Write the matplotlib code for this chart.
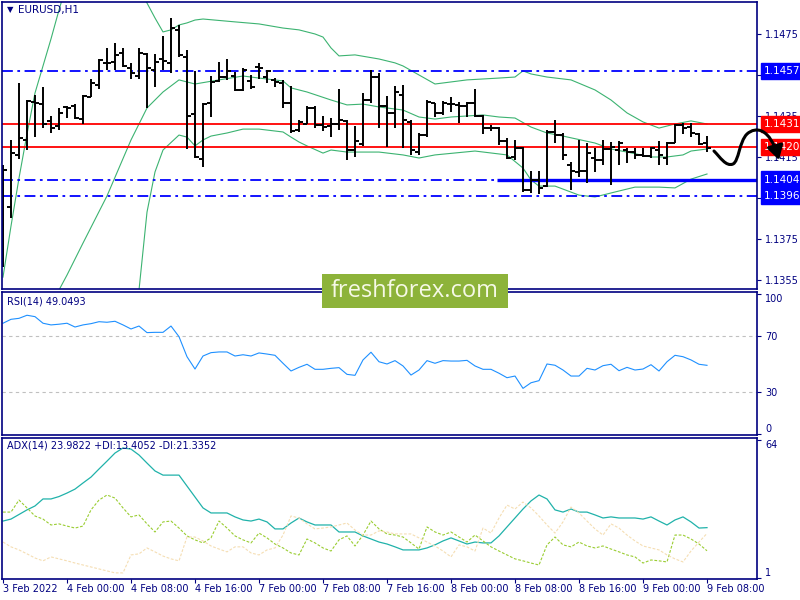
import numpy as np
import matplotlib.pyplot as plt
from matplotlib.patches import Rectangle, FancyArrowPatch, ArrowStyle
from matplotlib.path import Path
from matplotlib.transforms import blended_transform_factory

# EURUSD H1 bars, 3 Feb 16:00 .. 9 Feb 08:00 (89 bars)
opens = [1.13696, 1.13906, 1.14160, 1.14233, 1.14418, 1.14408, 1.14326, 1.14301, 1.14394, 1.14399,
         1.14335, 1.14443, 1.14501, 1.14609, 1.14613, 1.14657, 1.14584, 1.14545, 1.14652, 1.14574,
         1.14628, 1.14609, 1.14770, 1.14638, 1.14360, 1.14140, 1.14413, 1.14521, 1.14540, 1.14545,
         1.14477, 1.14521, 1.14589, 1.14540, 1.14526, 1.14511, 1.14413, 1.14282, 1.14311, 1.14389,
         1.14306, 1.14301, 1.14311, 1.14326, 1.14184, 1.14213, 1.14428, 1.14540, 1.14399, 1.14365,
         1.14452, 1.14321, 1.14174, 1.14257, 1.14413, 1.14365, 1.14408, 1.14404, 1.14399, 1.14413,
         1.14350, 1.14291, 1.14291, 1.14228, 1.14150, 1.14194, 1.13989, 1.14038, 1.14008, 1.14272,
         1.14257, 1.14111, 1.14077, 1.14082, 1.14145, 1.14135, 1.14189, 1.14184, 1.14184, 1.14174,
         1.14160, 1.14155, 1.14184, 1.14145, 1.14218, 1.14306, 1.14296, 1.14262, 1.14218]
highs = [1.14111, 1.14233, 1.14511, 1.14428, 1.14452, 1.14491, 1.14350, 1.14389, 1.14399, 1.14408,
         1.14452, 1.14530, 1.14628, 1.14682, 1.14706, 1.14682, 1.14609, 1.14682, 1.14657, 1.14652,
         1.14740, 1.14828, 1.14794, 1.14672, 1.14570, 1.14413, 1.14545, 1.14613, 1.14628, 1.14565,
         1.14584, 1.14550, 1.14609, 1.14574, 1.14535, 1.14526, 1.14496, 1.14330, 1.14399, 1.14399,
         1.14350, 1.14340, 1.14482, 1.14330, 1.14301, 1.14462, 1.14574, 1.14560, 1.14448, 1.14496,
         1.14501, 1.14330, 1.14267, 1.14428, 1.14413, 1.14423, 1.14443, 1.14418, 1.14418, 1.14482,
         1.14355, 1.14306, 1.14296, 1.14243, 1.14233, 1.14199, 1.14082, 1.14082, 1.14282, 1.14330,
         1.14267, 1.14125, 1.14233, 1.14218, 1.14194, 1.14233, 1.14223, 1.14228, 1.14194, 1.14194,
         1.14194, 1.14199, 1.14228, 1.14223, 1.14311, 1.14316, 1.14316, 1.14267, 1.14252]
lows = [1.13613, 1.13852, 1.14140, 1.14184, 1.14247, 1.14291, 1.14267, 1.14282, 1.14340, 1.14335,
        1.14311, 1.14443, 1.14482, 1.14574, 1.14574, 1.14589, 1.14530, 1.14530, 1.14389, 1.14491,
        1.14574, 1.14560, 1.14638, 1.14189, 1.14145, 1.14101, 1.14345, 1.14516, 1.14526, 1.14472,
        1.14472, 1.14482, 1.14530, 1.14511, 1.14491, 1.14389, 1.14267, 1.14272, 1.14311, 1.14291,
        1.14277, 1.14247, 1.14282, 1.14135, 1.14150, 1.14204, 1.14413, 1.14291, 1.14199, 1.14291,
        1.14194, 1.14160, 1.14160, 1.14247, 1.14345, 1.14355, 1.14369, 1.14316, 1.14345, 1.14345,
        1.14262, 1.14277, 1.14208, 1.14140, 1.14135, 1.13979, 1.13974, 1.13969, 1.14003, 1.14218,
        1.14135, 1.13989, 1.14052, 1.14023, 1.14077, 1.14111, 1.14013, 1.14111, 1.14121, 1.14140,
        1.14150, 1.14145, 1.14111, 1.14111, 1.14218, 1.14262, 1.14247, 1.14208, 1.14174]
closes = [1.14086, 1.14169, 1.14243, 1.14423, 1.14413, 1.14311, 1.14291, 1.14365, 1.14389, 1.14340,
          1.14448, 1.14511, 1.14623, 1.14609, 1.14648, 1.14594, 1.14560, 1.14657, 1.14584, 1.14613,
          1.14618, 1.14779, 1.14648, 1.14350, 1.14150, 1.14408, 1.14516, 1.14540, 1.14570, 1.14477,
          1.14574, 1.14491, 1.14584, 1.14570, 1.14516, 1.14413, 1.14277, 1.14321, 1.14389, 1.14306,
          1.14296, 1.14311, 1.14330, 1.14184, 1.14228, 1.14428, 1.14540, 1.14399, 1.14365, 1.14467,
          1.14330, 1.14184, 1.14257, 1.14418, 1.14365, 1.14413, 1.14408, 1.14399, 1.14413, 1.14350,
          1.14291, 1.14291, 1.14228, 1.14145, 1.14194, 1.13989, 1.14038, 1.13999, 1.14272, 1.14257,
          1.14160, 1.14082, 1.14082, 1.14169, 1.14135, 1.14189, 1.14199, 1.14218, 1.14174, 1.14160,
          1.14155, 1.14194, 1.14160, 1.14218, 1.14306, 1.14291, 1.14267, 1.14213, 1.14194]

# Bollinger bands read at some bars
upper_idx = [0, 1, 2, 3, 4, 5, 6, 7, 8, 10, 13, 16, 17, 18, 19, 20, 21, 22, 23, 24, 25, 29, 32, 35, 37,
             39, 40, 41, 42, 44, 47, 49, 50, 52, 54, 58, 62, 64, 65, 66, 68, 71, 74, 76, 78, 80, 82, 84, 86, 88]
upper_val = [1.13564, 1.13813, 1.14047, 1.14262, 1.14462, 1.14594, 1.14726, 1.14867, 1.14999, 1.15209,
             1.15306, 1.15111, 1.14970, 1.14901, 1.14828, 1.14760, 1.14770, 1.14794, 1.14804, 1.14818,
             1.14823, 1.14809, 1.14799, 1.14779, 1.14770, 1.14750, 1.14735, 1.14682, 1.14643, 1.14648,
             1.14628, 1.14609, 1.14594, 1.14550, 1.14506, 1.14526, 1.14535, 1.14540, 1.14570, 1.14555,
             1.14540, 1.14526, 1.14477, 1.14428, 1.14365, 1.14321, 1.14291, 1.14311, 1.14326, 1.14311]
mid_idx = [0, 4, 6, 7, 8, 10, 13, 16, 18, 20, 22, 24, 27, 30, 32, 35, 36, 38, 41, 43,
           45, 47, 50, 52, 54, 56, 60, 62, 64, 66, 68, 70, 74, 76, 78, 81, 83, 85, 86, 88]
mid_val = [1.12964, 1.13267, 1.13423, 1.13501, 1.13574, 1.13730, 1.13960, 1.14233, 1.14389, 1.14467,
           1.14526, 1.14506, 1.14526, 1.14545, 1.14535, 1.14521, 1.14487, 1.14467, 1.14428, 1.14404,
           1.14408, 1.14394, 1.14379, 1.14345, 1.14335, 1.14345, 1.14355, 1.14345, 1.14340, 1.14296,
           1.14267, 1.14252, 1.14218, 1.14189, 1.14174, 1.14150, 1.14150, 1.14160, 1.14179, 1.14189]
lower_idx = [14, 16, 17, 18, 19, 20, 22, 23, 24, 25, 26, 28, 30, 32, 35, 36, 37, 38, 40, 41,
             43, 47, 50, 52, 54, 59, 63, 65, 66, 67, 69, 72, 74, 77, 79, 82, 84, 86, 88]
lower_val = [1.12866, 1.13257, 1.13501, 1.13881, 1.14077, 1.14184, 1.14257, 1.14247, 1.14204, 1.14233,
             1.14252, 1.14267, 1.14286, 1.14286, 1.14272, 1.14247, 1.14223, 1.14204, 1.14169, 1.14184,
             1.14174, 1.14174, 1.14160, 1.14145, 1.14160, 1.14179, 1.14160, 1.14096, 1.14038, 1.14008,
             1.14008, 1.13964, 1.13955, 1.13984, 1.14003, 1.14003, 1.13999, 1.14042, 1.14067]

rsi = [79.1, 81.9, 82.6, 84.8, 83.8, 79.1, 77.9, 78.4, 79.1, 76.4,
       77.9, 78.8, 80.2, 79.8, 80.5, 77.9, 75.0, 77.1, 72.4, 72.6,
       72.6, 77.1, 69.5, 55.2, 46.4, 55.7, 58.1, 58.6, 58.6, 55.7,
       56.6, 55.7, 57.9, 57.1, 56.2, 50.5, 45.0, 47.6, 49.8, 46.2,
       46.2, 46.9, 47.4, 42.6, 41.9, 52.9, 58.4, 51.6, 50.0, 52.4,
       48.6, 42.1, 45.7, 52.4, 50.5, 52.4, 52.1, 52.1, 52.6, 48.6,
       46.2, 46.2, 43.4, 40.2, 41.4, 32.6, 36.6, 38.1, 50.0, 49.1,
       45.7, 41.4, 41.4, 46.9, 45.7, 48.8, 49.8, 45.2, 47.6, 45.7,
       46.4, 49.5, 45.0, 51.6, 56.2, 55.2, 52.9, 49.8, 49.05]
adx = [27.0, 27.9, 30.0, 32.1, 33.9, 37.1, 37.1, 38.2, 39.8, 41.6,
       44.4, 47.1, 50.8, 54.4, 58.1, 60.4, 59.9, 57.2, 53.5, 49.9,
       48.0, 48.0, 48.0, 43.0, 38.0, 33.0, 30.7, 30.7, 30.7, 28.9,
       27.5, 27.0, 27.9, 26.6, 23.4, 23.4, 26.1, 28.4, 26.6, 25.2,
       25.2, 25.2, 22.0, 22.0, 22.0, 20.2, 18.8, 17.4, 16.5, 15.2,
       13.8, 13.8, 13.8, 14.7, 16.1, 17.9, 19.3, 17.9, 16.5, 17.4,
       17.0, 17.0, 20.2, 24.3, 28.4, 32.5, 36.2, 38.9, 37.1, 32.1,
       31.1, 32.5, 31.1, 31.1, 29.8, 28.4, 28.9, 28.4, 28.4, 28.4,
       27.9, 28.9, 27.0, 25.2, 27.5, 28.9, 26.6, 23.8, 23.98]
plus_di = [31.1, 31.1, 36.6, 33.0, 29.3, 27.9, 25.2, 25.7, 24.7, 23.8,
           24.7, 32.1, 36.6, 38.9, 37.5, 33.0, 28.9, 29.8, 25.7, 22.0,
           26.6, 27.0, 23.8, 20.2, 18.4, 17.0, 19.3, 27.0, 23.8, 20.2,
           18.4, 17.0, 21.5, 19.3, 16.5, 14.7, 12.4, 11.5, 18.8, 17.0,
           14.7, 13.3, 18.4, 20.2, 15.6, 20.6, 27.0, 23.4, 21.1, 20.6,
           19.7, 17.0, 14.2, 24.3, 22.0, 20.6, 22.0, 19.7, 17.4, 20.6,
           17.9, 15.2, 13.3, 11.5, 9.7, 8.8, 7.8, 6.9, 16.1, 19.7,
           16.1, 15.2, 17.4, 15.6, 14.7, 15.6, 14.2, 12.9, 11.5, 10.6,
           7.8, 9.2, 8.8, 8.3, 20.6, 20.6, 18.8, 16.5, 13.41]
minus_di = [17.4, 15.2, 13.8, 12.0, 10.1, 8.8, 10.6, 9.7, 8.8, 7.8,
            6.9, 6.0, 5.1, 4.2, 3.3, 3.3, 11.5, 12.0, 14.7, 12.9,
            11.0, 9.7, 8.8, 19.7, 19.7, 17.9, 15.6, 14.2, 12.9, 15.2,
            15.2, 12.4, 11.5, 13.8, 14.7, 20.6, 29.3, 28.4, 25.7, 23.4,
            23.8, 24.3, 25.2, 26.1, 22.9, 20.6, 20.6, 22.5, 22.0, 21.1,
            21.1, 21.1, 19.3, 17.4, 15.6, 13.3, 10.6, 16.1, 15.2, 13.3,
            23.8, 21.5, 28.4, 34.3, 32.5, 35.7, 33.0, 29.3, 25.2, 21.5,
            26.6, 33.4, 30.7, 27.0, 23.4, 20.6, 25.7, 23.8, 20.6, 17.9,
            15.6, 14.7, 13.8, 11.5, 9.7, 8.3, 13.3, 17.4, 21.34]

time_labels = ["3 Feb 2022", "4 Feb 00:00", "4 Feb 08:00", "4 Feb 16:00", "7 Feb 00:00", "7 Feb 08:00",
               "7 Feb 16:00", "8 Feb 00:00", "8 Feb 08:00", "8 Feb 16:00", "9 Feb 00:00", "9 Feb 08:00"]
price_ticks = [1.1355, 1.1375, 1.1395, 1.1415, 1.1435, 1.1455, 1.1475]
hidden_ticks = [1.1395, 1.1455]  # fully covered by level boxes
red_levels = [1.1431, 1.1420]
blue_levels = [1.1457, 1.1404, 1.1396]
support_start = 62  # bar where the thick 1.1404 line begins

navy = '#000080'
W, H = 800, 600


def fp(x, y):
    return (x / W, 1 - y / H)


fig = plt.figure(figsize=(8, 6), dpi=100)
ax1 = fig.add_axes([2 / W, 1 - 289 / H, 755 / W, 287 / H])
ax2 = fig.add_axes([2 / W, 1 - 435 / H, 755 / W, 143 / H])
ax3 = fig.add_axes([2 / W, 1 - 579 / H, 755 / W, 141.5 / H])

n = len(closes)
x = np.arange(n)

for ax in (ax1, ax2, ax3):
    ax.set_xlim(-0.125, 94.25)
    for s in ax.spines.values():
        s.set_color(navy)
        s.set_linewidth(1.2)
    ax.yaxis.tick_right()
    ax.tick_params(axis='y', direction='out', length=3, pad=3, labelsize=7,
                   colors=navy, labelcolor=navy)
    ax.tick_params(axis='x', bottom=False, labelbottom=False)

# main price panel
ax1.set_ylim(1.13506, 1.14906)
ax1.set_yticks(price_ticks)
ax1.set_yticklabels(["" if p in hidden_ticks else f"{p:.4f}" for p in price_ticks])

ax1.plot(upper_idx, upper_val, color='#3cb371', lw=0.8)
ax1.plot(mid_idx, mid_val, color='#3cb371', lw=0.8)
ax1.plot(lower_idx, lower_val, color='#3cb371', lw=0.8)

for lv in red_levels:
    ax1.axhline(lv, color='#ff0000', lw=1.3)
for lv in blue_levels:
    ax1.axhline(lv, color='#0000ff', lw=1.3, linestyle=(0, (6, 2.5, 1.5, 2.5)))
ax1.hlines(blue_levels[1], support_start - 0.2, 94.25, color='#0000ff', lw=2.4)

ax1.vlines(x, lows, highs, color='black', lw=1.4)
ax1.hlines(opens, x - 0.45, x, color='black', lw=1.4)
ax1.hlines(closes, x, x + 0.45, color='black', lw=1.4)

lab_tr = blended_transform_factory(fig.transFigure, ax1.transData)
for lv, c in [(1.1457, '#0000ff'), (1.1431, '#ff0000'), (1.1420, '#ff0000'),
              (1.1404, '#0000ff'), (1.1396, '#0000ff')]:
    ax1.text(764 / W, lv, f"{lv:.4f}", transform=lab_tr, color='white', fontsize=7.5,
             va='center', ha='left', clip_on=False, zorder=10,
             bbox=dict(boxstyle='square,pad=0.3', fc=c, ec=c))

fig.text(7 / W, 1 - 10 / H, '\u25bc', color=navy, fontsize=6, va='center')
fig.text(18 / W, 1 - 10 / H, 'EURUSD,H1', color=navy, fontsize=7.5, va='center')

# RSI panel
ax2.set_ylim(-0.7, 101.4)
ax2.set_yticks([0, 30, 70, 100])
ax2.axhline(70, color='#c0c0c0', lw=0.8, linestyle=(0, (3, 3)))
ax2.axhline(30, color='#c0c0c0', lw=0.8, linestyle=(0, (3, 3)))
ax2.plot(x, rsi, color='#1e90ff', lw=0.8)
fig.text(7 / W, 1 - 301 / H, "RSI(14) 49.0493", color=navy, fontsize=7, va='center')

# ADX panel
ax3.set_ylim(0.5, 65.2)
ax3.set_yticks([1, 64])
ax3.plot(x, adx, color='#20b2aa', lw=0.9)
ax3.plot(x, plus_di, color='#9acd32', lw=0.8, linestyle=(0, (2.5, 1.5)))
ax3.plot(x, minus_di, color='#f5deb3', lw=0.8, linestyle=(0, (2.5, 1.5)))
fig.text(7 / W, 1 - 446 / H, "ADX(14) 23.9822 +DI:13.4052 -DI:21.3352",
         color=navy, fontsize=7, va='center')

# edge labels sit inside their panel, like in the terminal
for ax in (ax2, ax3):
    ticks = ax.yaxis.get_major_ticks()
    ticks[0].label2.set_va('bottom')
    ticks[-1].label2.set_va('top')

ax3.set_xticks(np.arange(0, n, 8))
ax3.set_xticklabels(time_labels, ha='left')
ax3.tick_params(axis='x', bottom=True, labelbottom=True, direction='out', length=3,
                pad=0.5, labelsize=7, colors=navy, labelcolor=navy)

# watermark
fig.add_artist(Rectangle(fp(322, 308), 186 / W, 34 / H, transform=fig.transFigure,
                         fc='#8db33a', ec='none', zorder=5))
fig.text(415 / W, 1 - 291 / H, 'freshforex.com', color='#f6f9e6', fontsize=17,
         family='Open Sans', ha='center', va='center', zorder=6)

# forecast arrow
verts = [fp(714, 151), fp(720, 157), fp(726, 167), fp(733, 164),
         fp(739, 161), fp(739, 142), fp(747, 134),
         fp(756, 126), fp(770, 128), fp(779, 160)]
codes = [Path.MOVETO] + [Path.CURVE4] * 9
arrow = FancyArrowPatch(path=Path(verts, codes), transform=fig.transFigure,
                        arrowstyle=ArrowStyle('-|>', head_length=0.6, head_width=0.35),
                        mutation_scale=14, lw=2.2, color='black', zorder=20)
fig.add_artist(arrow)

fig.savefig('out.png', dpi=100)
